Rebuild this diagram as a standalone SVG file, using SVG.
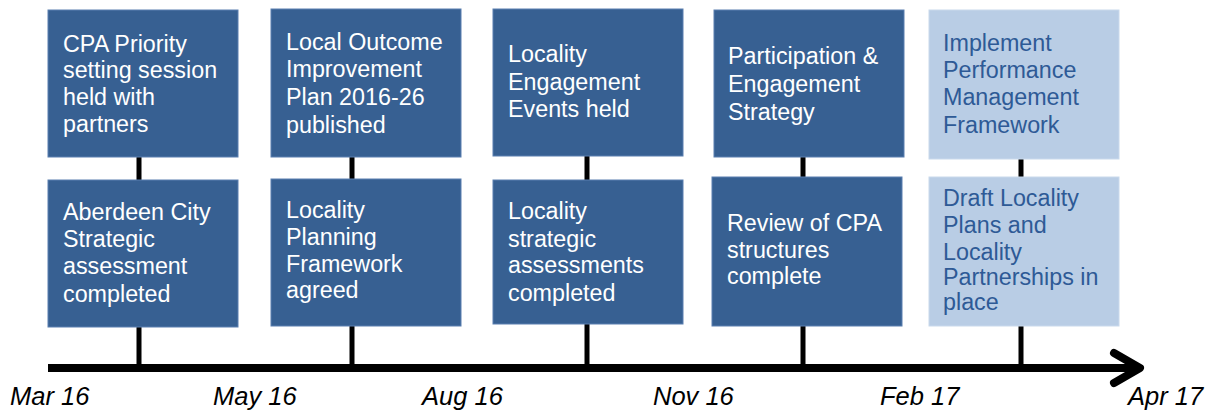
<svg xmlns="http://www.w3.org/2000/svg" width="1212" height="412" viewBox="0 0 1212 412">
<style>
.dk{fill:#376092;stroke:#5a7fb0;stroke-width:1}
.lt{fill:#b9cde5;stroke:#c9d9ec;stroke-width:1}
.tw{font-family:"Liberation Sans",Arial,sans-serif;font-size:23.3px;fill:#ffffff}
.tb{font-family:"Liberation Sans",Arial,sans-serif;font-size:23.3px;fill:#2e5a96}
.lab{font-family:"Liberation Sans",Arial,sans-serif;font-size:25.5px;font-style:italic;fill:#000000}
.con{stroke:#000000;stroke-width:5;fill:none}
</style>
<rect width="1212" height="412" fill="#ffffff"/>
<g id="connectors">
<line class="con" x1="139" y1="157" x2="139" y2="368"/>
<line class="con" x1="352" y1="157" x2="352" y2="368"/>
<line class="con" x1="587" y1="156" x2="587" y2="368"/>
<line class="con" x1="803" y1="157" x2="803" y2="368"/>
<line class="con" x1="1021" y1="159" x2="1021" y2="368"/>
<line x1="48" y1="368" x2="1138" y2="368" stroke="#000000" stroke-width="8"/>
<polyline points="1114,353 1140,368 1114,383" fill="none" stroke="#000000" stroke-width="8" stroke-linecap="round" stroke-linejoin="round"/>
</g>
<g id="n1">
<rect class="dk" x="48" y="10" width="190" height="147"/>
<text class="tw" x="63"><tspan x="63" y="52">CPA Priority</tspan><tspan x="63" y="78">setting session</tspan><tspan x="63" y="105">held with</tspan><tspan x="63" y="132">partners</tspan></text>
</g>
<g id="n2">
<rect class="dk" x="48" y="180" width="190" height="147"/>
<text class="tw"><tspan x="63" y="220">Aberdeen City</tspan><tspan x="63" y="247">Strategic</tspan><tspan x="63" y="274">assessment</tspan><tspan x="63" y="302">completed</tspan></text>
</g>
<g id="n3">
<rect class="dk" x="271" y="9" width="190" height="148"/>
<text class="tw"><tspan x="286" y="50">Local Outcome</tspan><tspan x="286" y="77">Improvement</tspan><tspan x="286" y="105">Plan 2016-26</tspan><tspan x="286" y="133">published</tspan></text>
</g>
<g id="n4">
<rect class="dk" x="271" y="179" width="190" height="147"/>
<text class="tw"><tspan x="286" y="218">Locality</tspan><tspan x="286" y="245">Planning</tspan><tspan x="286" y="272">Framework</tspan><tspan x="286" y="298">agreed</tspan></text>
</g>
<g id="n5">
<rect class="dk" x="493" y="9" width="190" height="147"/>
<text class="tw"><tspan x="508" y="62">Locality</tspan><tspan x="508" y="90">Engagement</tspan><tspan x="508" y="117">Events held</tspan></text>
</g>
<g id="n6">
<rect class="dk" x="493" y="180" width="190" height="144"/>
<text class="tw"><tspan x="508" y="219">Locality</tspan><tspan x="508" y="247">strategic</tspan><tspan x="508" y="273">assessments</tspan><tspan x="508" y="301">completed</tspan></text>
</g>
<g id="n7">
<rect class="dk" x="714" y="10" width="190" height="147"/>
<text class="tw"><tspan x="728" y="64">Participation &amp;</tspan><tspan x="728" y="92">Engagement</tspan><tspan x="728" y="120">Strategy</tspan></text>
</g>
<g id="n8">
<rect class="dk" x="712" y="177" width="190" height="149"/>
<text class="tw"><tspan x="727" y="231">Review of CPA</tspan><tspan x="727" y="258">structures</tspan><tspan x="727" y="284">complete</tspan></text>
</g>
<g id="n9">
<rect class="lt" x="929" y="10" width="190" height="149"/>
<text class="tb"><tspan x="943" y="51">Implement</tspan><tspan x="943" y="78">Performance</tspan><tspan x="943" y="105">Management</tspan><tspan x="943" y="133">Framework</tspan></text>
</g>
<g id="n10">
<rect class="lt" x="929" y="177" width="190" height="149"/>
<text class="tb"><tspan x="943" y="206">Draft Locality</tspan><tspan x="943" y="233">Plans and</tspan><tspan x="943" y="260">Locality</tspan><tspan x="943" y="285">Partnerships in</tspan><tspan x="943" y="310">place</tspan></text>
</g>
<g id="labels">
<text class="lab" x="10" y="405">Mar 16</text>
<text class="lab" x="213" y="405">May 16</text>
<text class="lab" x="422" y="405">Aug 16</text>
<text class="lab" x="653" y="405">Nov 16</text>
<text class="lab" x="880" y="405">Feb 17</text>
<text class="lab" x="1128" y="405">Apr 17</text>
</g>
</svg>
